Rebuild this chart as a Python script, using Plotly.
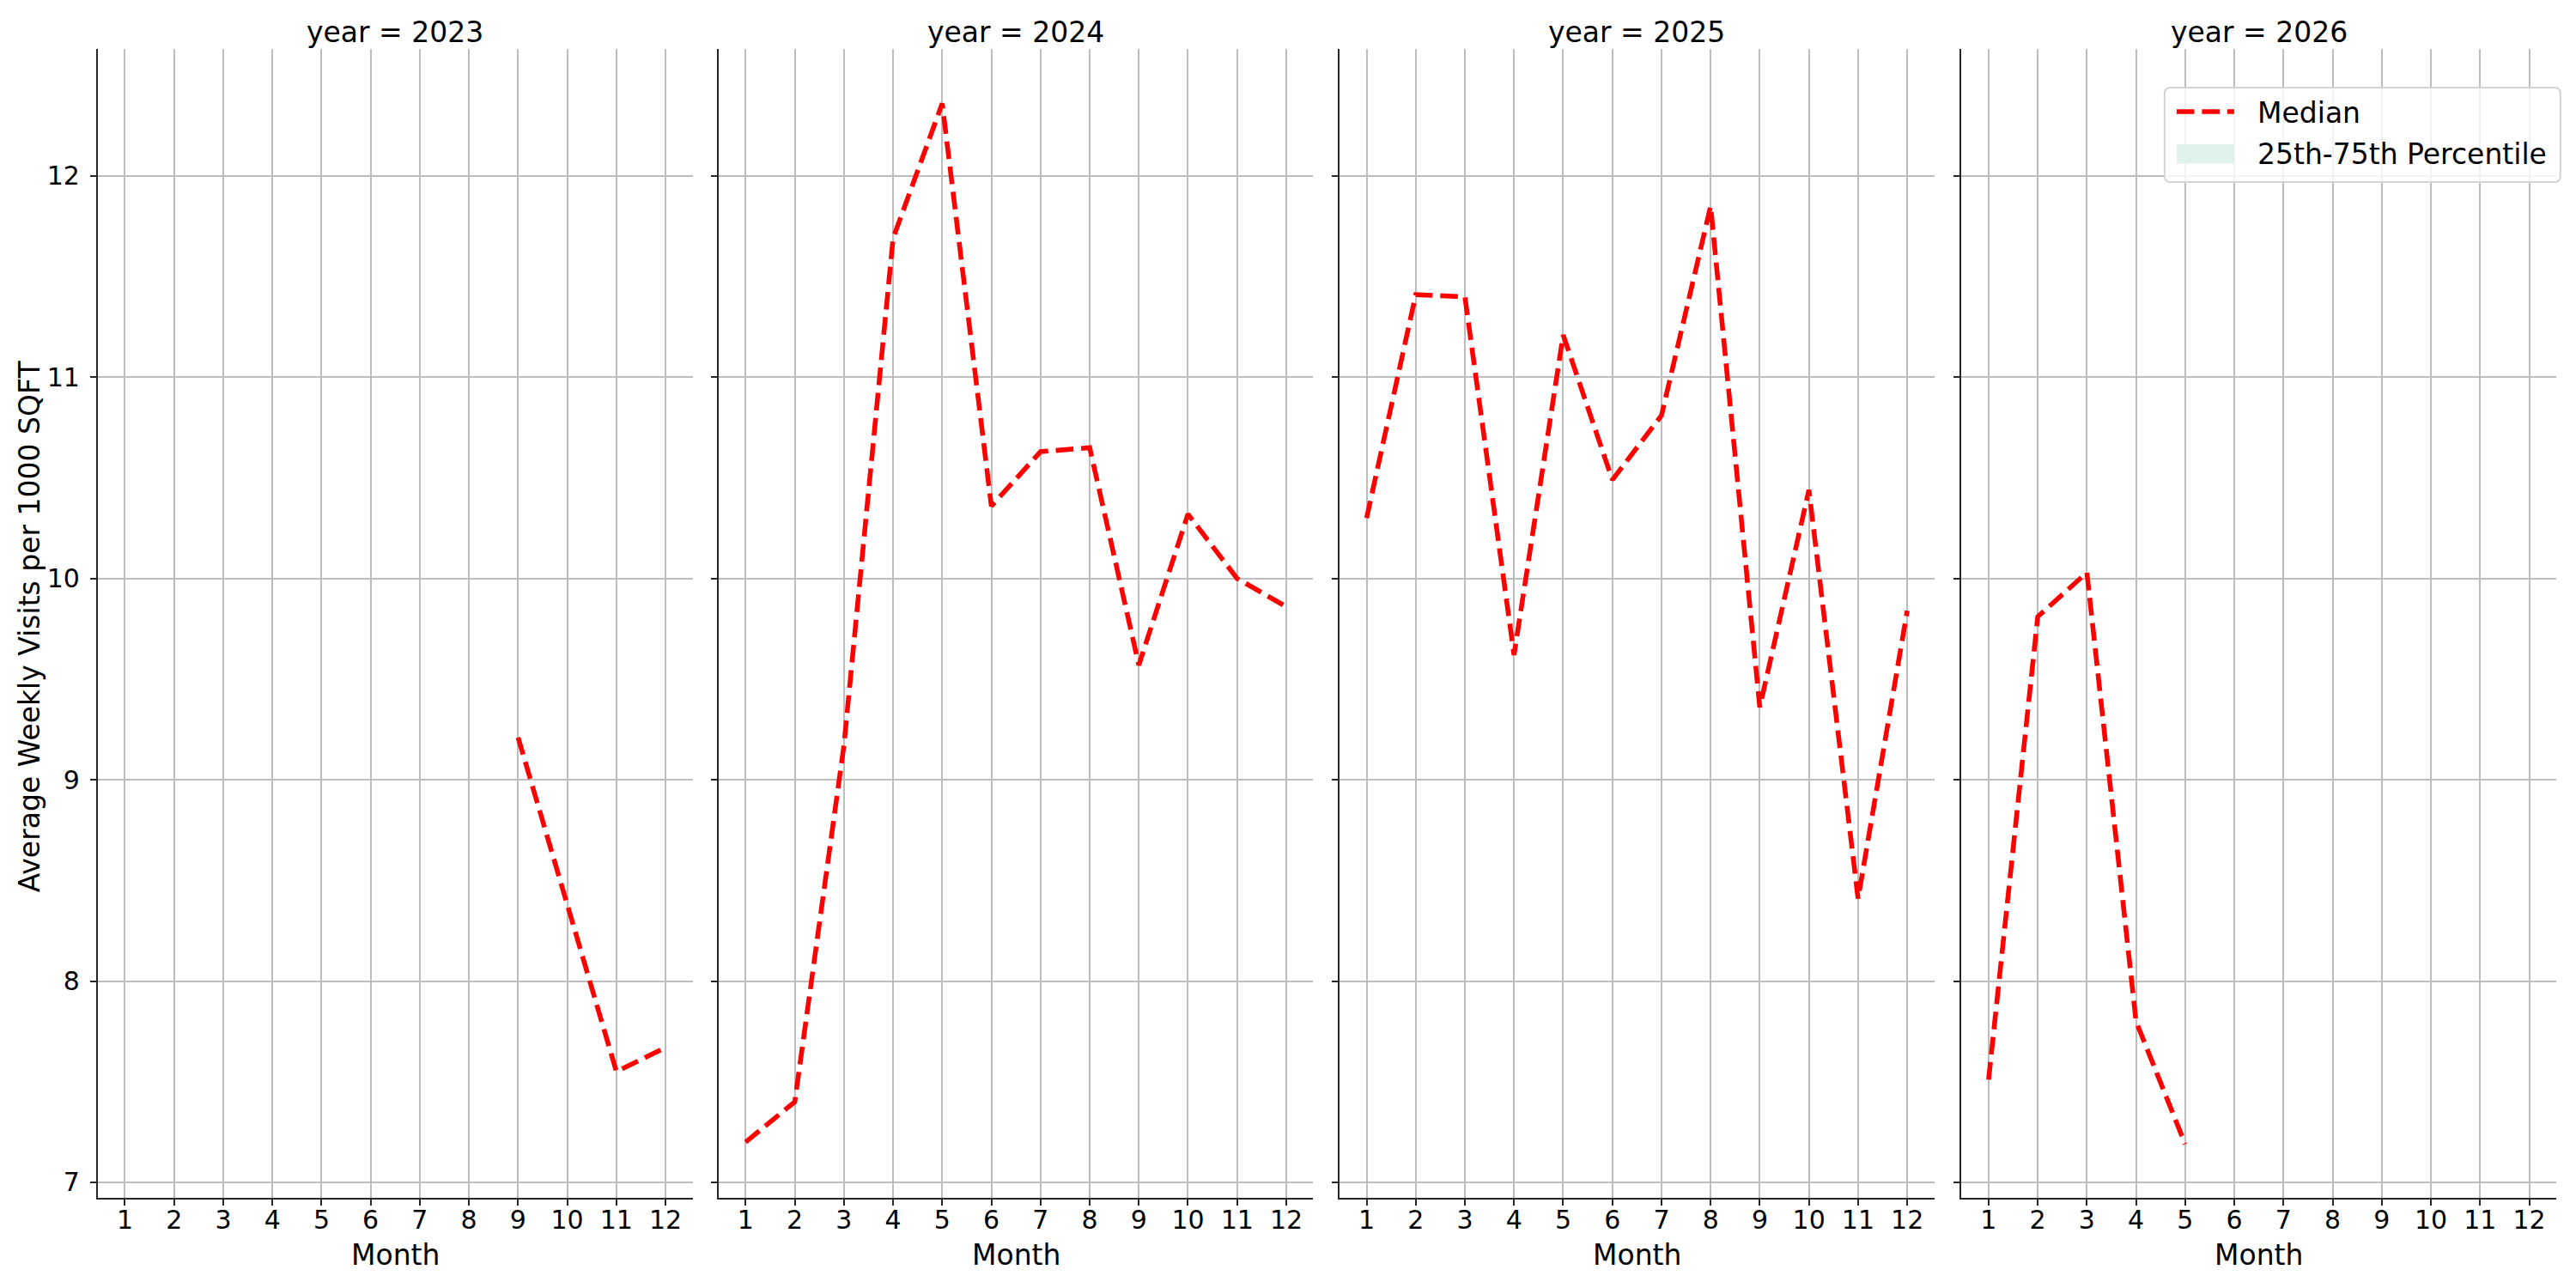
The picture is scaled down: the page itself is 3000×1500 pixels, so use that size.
import plotly.graph_objects as go

# ---------------- data ----------------
months = [1, 2, 3, 4, 5, 6, 7, 8, 9, 10, 11, 12]
years = ["2023", "2024", "2025", "2026"]
median_2023 = [None, None, None, None, None, None, None, None, 9.21, 8.39, 7.55, 7.67]
median_2024 = [7.20, 7.40, 9.17, 11.69, 12.36, 10.36, 10.63, 10.65, 9.57, 10.32, 10.00, 9.86]
median_2025 = [10.30, 11.41, 11.40, 9.62, 11.21, 10.49, 10.81, 11.85, 9.36, 10.44, 8.41, 9.84]
median_2026 = [7.51, 9.81, 10.03, 7.80, 7.19, None, None, None, None, None, None, None]
y_ticks = [7, 8, 9, 10, 11, 12]
x_ticks = months
series = [median_2023, median_2024, median_2025, median_2026]
legend_labels = ["Median", "25th-75th Percentile"]

# ---------------- layout geometry (px) ----------------
W, H = 3000, 1500
plot_l, plot_r, plot_t, plot_b = 113.7, 2977.2, 57, 1395
PW = plot_r - plot_l
PH = plot_b - plot_t
panel_left = [113.7, 836.7, 1560.0, 2284.5]
panel_w = 692.7

def px(x):
    return (x - plot_l) / PW

def py(y):
    return (plot_b - y) / PH

FONT = "DejaVu Sans"
GRID = "#bdbdbd"
SPINE = "#262626"
RED = "#ff0000"
BAND = "rgb(222,241,236)"
DASH = "20.6px,8.9px"

fig = go.Figure()

for i, (yr, vals) in enumerate(zip(years, series)):
    xa = "x" if i == 0 else f"x{i+1}"
    ya = "y" if i == 0 else f"y{i+1}"
    fig.add_trace(go.Scatter(
        x=months, y=vals, mode="lines", name=legend_labels[0],
        line=dict(color=RED, width=5.6, dash=DASH),
        xaxis=xa, yaxis=ya, showlegend=False, connectgaps=False,
    ))

annotations = []
for i, yr in enumerate(years):
    d0 = px(panel_left[i])
    d1 = min(px(panel_left[i] + panel_w), 1.0)
    suffix = "" if i == 0 else str(i + 1)
    fig.layout["xaxis" + suffix] = dict(
        domain=[d0, d1], range=[0.45, 12.55], tickmode="array",
        tickvals=x_ticks, ticktext=[str(m) for m in x_ticks],
        showgrid=True, gridcolor=GRID, gridwidth=2,
        showline=True, linecolor=SPINE, linewidth=2.2,
        ticks="outside", ticklen=7, tickwidth=2, tickcolor=SPINE,
        tickfont=dict(family=FONT, size=30, color="black"),
        zeroline=False, anchor="y" + suffix, automargin=False,
        ticklabelstandoff=-9,
    )
    fig.layout["yaxis" + suffix] = dict(
        domain=[0, 1], range=[6.923, 12.631], tickmode="array",
        tickvals=y_ticks, ticktext=[str(v) for v in y_ticks],
        showgrid=True, gridcolor=GRID, gridwidth=2,
        showline=True, linecolor=SPINE, linewidth=2.2,
        ticks="outside", ticklen=7, tickwidth=2, tickcolor=SPINE,
        showticklabels=(i == 0),
        tickfont=dict(family=FONT, size=30, color="black"),
        zeroline=False, anchor="x" + suffix, automargin=False,
        ticklabelstandoff=6,
    )
    cx = (d0 + d1) / 2
    annotations.append(dict(
        text=f"year = {yr}", x=cx, y=py(37), xref="paper", yref="paper",
        xanchor="center", yanchor="middle", showarrow=False,
        font=dict(family=FONT, size=33, color="black"),
    ))
    annotations.append(dict(
        text="Month", x=cx, y=py(1461), xref="paper", yref="paper",
        xanchor="center", yanchor="middle", showarrow=False,
        font=dict(family=FONT, size=33, color="black"),
    ))

annotations.append(dict(
    text="Average Weekly Visits per 1000 SQFT", textangle=-90,
    x=px(34), y=py(729), xref="paper", yref="paper",
    xanchor="center", yanchor="middle", showarrow=False,
    font=dict(family=FONT, size=33, color="black"),
))

# ---------------- legend (drawn in paper space) ----------------
bx0, bx1, by0, by1, r = 2521, 2982, 102, 212, 7
box_path = (
    f"M {px(bx0 + r)},{py(by0)} L {px(bx1 - r)},{py(by0)} "
    f"Q {px(bx1)},{py(by0)} {px(bx1)},{py(by0 + r)} "
    f"L {px(bx1)},{py(by1 - r)} Q {px(bx1)},{py(by1)} {px(bx1 - r)},{py(by1)} "
    f"L {px(bx0 + r)},{py(by1)} Q {px(bx0)},{py(by1)} {px(bx0)},{py(by1 - r)} "
    f"L {px(bx0)},{py(by0 + r)} Q {px(bx0)},{py(by0)} {px(bx0 + r)},{py(by0)} Z"
)
shapes = [
    dict(type="path", path=box_path, xref="paper", yref="paper",
         fillcolor="rgba(255,255,255,0.8)", line=dict(color="#d4d4d4", width=2),
         layer="above"),
    dict(type="line", xref="paper", yref="paper",
         x0=px(2535), x1=px(2602), y0=py(130), y1=py(130),
         line=dict(color=RED, width=5.6, dash=DASH), layer="above"),
    dict(type="rect", xref="paper", yref="paper",
         x0=px(2535), x1=px(2602), y0=py(168), y1=py(190.5),
         fillcolor=BAND, line=dict(width=0), layer="above"),
]
annotations.append(dict(
    text=legend_labels[0], x=px(2627), y=py(131), xref="paper", yref="paper",
    xanchor="left", yanchor="middle", showarrow=False,
    font=dict(family=FONT, size=33, color="black"),
))
annotations.append(dict(
    text=legend_labels[1], x=px(2627), y=py(179), xref="paper", yref="paper",
    xanchor="left", yanchor="middle", showarrow=False,
    font=dict(family=FONT, size=33, color="black"),
))

fig.update_layout(
    width=W, height=H,
    margin=dict(l=plot_l, r=W - plot_r, t=plot_t, b=H - plot_b, pad=0),
    paper_bgcolor="white", plot_bgcolor="white",
    font=dict(family=FONT, size=30, color="black"),
    annotations=annotations,
    shapes=shapes,
    showlegend=False,
)

fig.write_html("out.html")
